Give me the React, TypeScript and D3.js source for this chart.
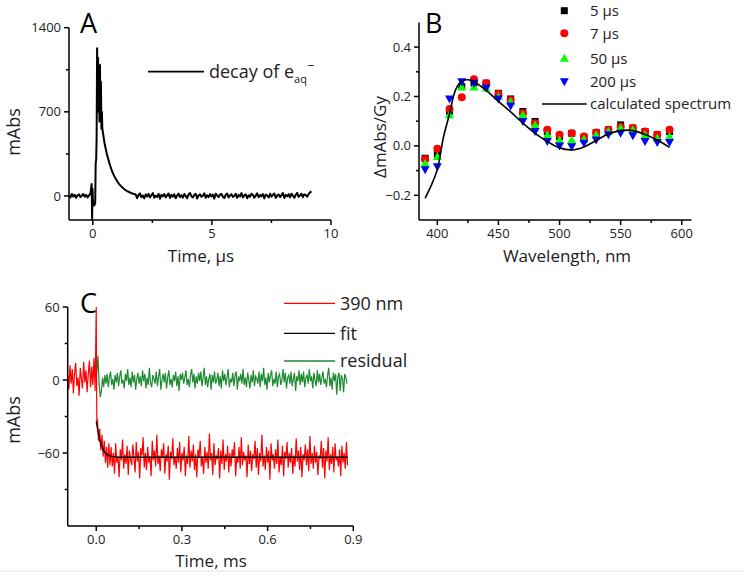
import React from 'react'
import * as d3 from 'd3'

const FONT = '"Open Sans", "Noto Sans", sans-serif'

// ---- panel A: decay of the hydrated electron (time µs, mAbs)
const aPreStart = -1.0
const aStep = 0.06
const aPre = [8, -12, 17, -5, 10, -15, 6, 13, -9, 3, 16, -6, 9, -13, 5, 20]
const aRiseT = [-0.05, -0.03, -0.01, 0.0, 0.02, 0.05, 0.08, 0.1, 0.12, 0.14, 0.16, 0.18, 0.2, 0.22, 0.24, 0.26, 0.28, 0.3, 0.32, 0.34, 0.36, 0.38, 0.4, 0.5, 0.6, 0.7, 0.8, 0.9, 1.0, 1.1, 1.2, 1.3, 1.4, 1.5, 1.6, 1.7]
const aRiseV = [100, -200, 60, -20, -75, -80, -70, -60, 270, 300, 480, 1230, 700, 1150, 800, 1080, 620, 1090, 700, 950, 560, 700, 560, 430, 340, 270, 210, 165, 130, 100, 78, 60, 45, 35, 25, 18]
const aTailStart = 1.8
const aTail = [
  12, -18, 8, 22, -10, 4, -20, 14, -5, 17,
  -12, 6, 24, -15, 2, -8, 18, -22, 9, -3,
  15, -11, 5, 21, -17, 10, -6, 13, -19, 3,
  19, -9, 7, -14, 16, 0, -18, 12, 25, -4,
  -12, 9, 18, -21, 5, 13, -7, 2, 22, -15,
  6, -10, 15, -3, 11, -22, 19, 3, -9, 12,
  16, -6, -18, 8, 21, -13, 4, 15, -9, 0,
  18, -16, 9, -4, 24, -12, 3, 13, -19, 6,
  -7, 19, 10, -15, 2, 22, -10, 7, -3, 16,
  -20, 12, 4, -13, 18, -6, 9, 21, -16, 3,
  13, -9, 6, 25, -17, 9, -4, 15, -12, 19,
  2, -15, 10, 26, -7, 5, 18, -10, 14, 7,
  -6, 16, 30, 38
]

// ---- panel B: transient spectra (nm, ΔmAbs/Gy)
const wavelengths = [390, 400, 410, 420, 430, 440, 450, 460, 470, 480, 490, 500, 510, 520, 530, 540, 550, 560, 570, 580, 590]
const s5 = [-0.05, -0.034, 0.14, 0.24, 0.255, 0.254, 0.213, 0.19, 0.139, 0.099, 0.058, 0.038, 0.051, 0.035, 0.054, 0.065, 0.085, 0.072, 0.058, 0.045, 0.058]
const s7 = [-0.054, -0.012, 0.149, 0.197, 0.27, 0.254, 0.21, 0.186, 0.132, 0.092, 0.065, 0.045, 0.051, 0.038, 0.054, 0.065, 0.078, 0.072, 0.058, 0.045, 0.065]
const s50 = [-0.07, -0.043, 0.126, 0.238, 0.238, 0.234, 0.2, 0.18, 0.126, 0.085, 0.045, 0.024, 0.024, 0.027, 0.045, 0.058, 0.072, 0.065, 0.045, 0.031, 0.038]
const s200 = [-0.097, -0.084, 0.19, 0.26, 0.254, 0.234, 0.19, 0.162, 0.099, 0.058, 0.018, 0.0, -0.003, 0.011, 0.024, 0.045, 0.051, 0.041, 0.018, 0.014, 0.014]
const calcWl = [390, 395, 400, 405, 410, 415, 420, 425, 430, 440, 450, 460, 470, 480, 490, 500, 510, 520, 530, 540, 550, 560, 570, 580, 590]
const calcVal = [-0.212, -0.16, -0.095, 0.035, 0.13, 0.228, 0.262, 0.268, 0.26, 0.225, 0.18, 0.138, 0.092, 0.051, 0.018, -0.008, -0.016, -0.004, 0.022, 0.048, 0.062, 0.062, 0.046, 0.024, -0.006]

// ---- panel C: 390 nm kinetics (ms, mAbs)
const cPreStart = -0.1
const cPreStep = 0.004
const cPre = [4, -8, 12, -3, 9, -11, 6, 14, -5, 2, -13, 10, 1, -7, 15, -2, 8, -10, 5, 16, -6, 11, -4, 18, -9]
const cJumpT = [0.0, 0.0008, 0.002]
const cJumpV = [60, 10, -35]
const cPostStart = 0.004
const cStep = 0.004
const cRed = [
  -32, -50, -40, -58, -45, -63, -50, -68, -55, -72, -52, -70,
  -55, -71, -60, -77, -52, -68, -63, -80, -57, -66,
  -49, -73, -61, -69, -54, -78, -58, -65, -70, -53,
  -64, -76, -51, -67, -59, -81, -56, -62, -47, -72,
  -60, -74, -55, -68, -63, -79, -50, -66, -58, -71,
  -45, -69, -62, -75, -57, -64, -52, -77, -61, -67,
  -54, -82, -59, -65, -48, -70, -63, -73, -56, -68,
  -51, -76, -60, -66, -55, -79, -62, -69, -46, -72,
  -58, -67, -53, -74, -61, -80, -57, -64, -50, -71,
  -63, -77, -55, -68, -59, -73, -44, -66, -60, -78,
  -52, -70, -62, -65, -56, -81, -58, -69, -49, -74,
  -61, -67, -54, -76, -60, -71, -57, -64, -51, -79,
  -63, -68, -55, -73, -47, -70, -59, -66, -62, -80,
  -53, -69, -58, -75, -61, -65, -50, -72, -56, -78,
  -60, -67, -45, -71, -62, -74, -55, -68, -58, -82,
  -52, -66, -61, -73, -57, -69, -49, -76, -63, -70,
  -54, -79, -59, -65, -51, -72, -60, -68, -56, -77,
  -62, -71, -48, -67, -58, -74, -55, -80, -61, -66,
  -53, -70, -57, -75, -46, -69, -60, -73, -54, -68,
  -59, -78, -62, -65, -50, -72, -56, -81, -58, -67,
  -47, -74, -61, -69, -55, -76, -52, -66, -63, -71,
  -57, -79, -54, -68, -60, -73, -51, -70
]
const cResStart = 0.002
const cResidual = [
  6, 20, -4, -14, -9, 2, -6, 4,
  -3, 5, -6, 2, 7, -4, 1, -8, 4, -2,
  6, -5, 3, 8, -3, 0, -7, 5, -1, 9,
  -4, 2, -6, 7, -2, 4, -8, 1, 6, -3,
  3, -5, 8, -1, 5, -7, 2, -4, 10, -2,
  -6, 4, 1, -3, 7, -5, 3, 9, -8, 0,
  5, -2, 6, -7, 2, 8, -4, 1, -6, 4,
  -1, 7, -5, 3, -9, 5, 0, 6, -3, 2,
  8, -4, 1, -6, 4, 9, -2, 5, -7, 3,
  -3, 6, -1, 7, -5, 2, 10, -4, 3, -6,
  1, 5, -8, 4, -2, 7, -3, 0, 6, -5,
  3, -7, 8, -1, 5, -4, 2, 9, -6, 1,
  -2, 6, -5, 4, 7, -8, 3, -1, 5, -3,
  9, -4, 2, -6, 6, 0, -7, 4, -2, 8,
  -5, 3, 1, -3, 7, -6, 5, -1, 10, -4,
  2, -8, 6, -2, 4, 8, -5, 1, -3, 7,
  -6, 3, 5, -4, 0, 9, -2, 6, -7, 2,
  4, -3, 7, -5, 1, 6, -9, 3, -1, 8,
  -4, 5, -2, 7, -6, 2, 4, -3, 9, -1,
  3, -7, 6, 0, -5, 8, -2, 5, -4, 2,
  7, -3, 1, -6, 4, 10, -5, 2, -8, 6,
  -1, 5, -12, 3, 6, -9, 4, 1, -10, 5,
  2, -3
]
const fitT = [0, 0.005, 0.01, 0.015, 0.02, 0.025, 0.03, 0.04, 0.05, 0.06, 0.08, 0.1, 0.3, 0.6, 0.88]
const fitV = [-34, -41, -47, -52, -55, -57.5, -59.5, -61.5, -62.5, -63, -63.5, -63.5, -63.5, -63.5, -63.5]

type Sc = d3.ScaleLinear<number, number>

function Axes({ x, y, xTicks, xMinor, yTicks, yMinor, fmtX, fmtY }: {
  x: Sc, y: Sc, xTicks: number[], xMinor: number[], yTicks: number[], yMinor: number[],
  fmtX: (v: number) => string, fmtY: (v: number) => string
}) {
  const [x0, x1] = x.range()
  const [y0, y1] = y.range()
  return (
    <g stroke="#000" strokeWidth={1.5} fontFamily={FONT} fontSize={13}>
      <line x1={x0} x2={x0} y1={y0} y2={y1} />
      <line x1={x0} x2={x1} y1={y0} y2={y0} />
      {xTicks.map(t => <line key={'xt' + t} x1={x(t)} x2={x(t)} y1={y0} y2={y0 + 5} />)}
      {xMinor.map(t => <line key={'xm' + t} x1={x(t)} x2={x(t)} y1={y0} y2={y0 + 3} />)}
      {yTicks.map(t => <line key={'yt' + t} x1={x0} x2={x0 - 5} y1={y(t)} y2={y(t)} />)}
      {yMinor.map(t => <line key={'ym' + t} x1={x0} x2={x0 - 3} y1={y(t)} y2={y(t)} />)}
      {xTicks.map(t => (
        <text key={'xl' + t} x={x(t)} y={y0 + 18} textAnchor="middle" stroke="none" fill="#222">{fmtX(t)}</text>
      ))}
      {yTicks.map(t => (
        <text key={'yl' + t} x={x0 - 8} y={y(t)} dy="0.35em" textAnchor="end" stroke="none" fill="#222">{fmtY(t)}</text>
      ))}
    </g>
  )
}

function PanelA() {
  const x = d3.scaleLinear().domain([-1, 10]).range([69, 331])
  const y = d3.scaleLinear().domain([-200, 1400]).range([220, 27.7])
  const pts: [number, number][] = [
    ...aPre.map((v, i) => [aPreStart + i * aStep, v] as [number, number]),
    ...aRiseT.map((t, i) => [t, aRiseV[i]] as [number, number]),
    ...aTail.map((v, i) => [aTailStart + i * aStep, v] as [number, number]),
  ]
  const line = d3.line<[number, number]>().x(d => x(d[0])).y(d => y(d[1]))
  return (
    <g>
      <path d={line(pts) || ''} fill="none" stroke="#000" strokeWidth={2} strokeLinejoin="round" />
      <Axes x={x} y={y} xTicks={[0, 5, 10]} xMinor={[2.5, 7.5]} yTicks={[0, 700, 1400]} yMinor={[350, 1050]}
        fmtX={d3.format('d')} fmtY={d3.format('d')} />
      <text x={80} y={33} fontFamily={FONT} fontSize={27}>A</text>
      <text transform="translate(20,132) rotate(-90)" textAnchor="middle" fontFamily={FONT} fontSize={18} fill="#222">mAbs</text>
      <text x={201} y={262} textAnchor="middle" fontFamily={FONT} fontSize={17} fill="#222">Time, μs</text>
      <line x1={148} x2={204} y1={71.7} y2={71.7} stroke="#000" strokeWidth={1.8} />
      <text x={209} y={78} fontFamily={FONT} fontSize={18} fill="#222">
        decay of e<tspan fontSize={11} dy={5}>aq</tspan><tspan fontSize={13} dy={-13}>−</tspan>
      </text>
    </g>
  )
}

function Marker({ kind, cx, cy }: { kind: string, cx: number, cy: number }) {
  if (kind === 'square') return <rect x={cx - 3.5} y={cy - 3.5} width={7} height={7} fill="#000" />
  if (kind === 'circle') return <circle cx={cx} cy={cy} r={4} fill="#ff0000" />
  if (kind === 'up') return <path d={`M${cx},${cy - 4.5}L${cx + 4.5},${cy + 3.5}L${cx - 4.5},${cy + 3.5}Z`} fill="#00ff00" />
  return <path d={`M${cx},${cy + 4.5}L${cx + 4.5},${cy - 3.5}L${cx - 4.5},${cy - 3.5}Z`} fill="#0000ff" />
}

function PanelB() {
  const x = d3.scaleLinear().domain([385, 608]).range([419, 691.5])
  const y = d3.scaleLinear().domain([-0.3, 0.5]).range([220, 22.4])
  const series = [
    { name: '5 μs', kind: 'square', vals: s5 },
    { name: '7 μs', kind: 'circle', vals: s7 },
    { name: '50 μs', kind: 'up', vals: s50 },
    { name: '200 μs', kind: 'down', vals: s200 },
  ]
  const line = d3.line<number>().x((_, i) => x(calcWl[i])).y(d => y(d)).curve(d3.curveCatmullRom)
  const legY = [10.7, 33.3, 58.3, 81.7]
  return (
    <g>
      {series.map(s => (
        <g key={s.name}>
          {s.vals.map((v, i) => <Marker key={i} kind={s.kind} cx={x(wavelengths[i])} cy={y(v)} />)}
        </g>
      ))}
      <path d={line(calcVal) || ''} fill="none" stroke="#000" strokeWidth={1.6} />
      <Axes x={x} y={y} xTicks={[400, 450, 500, 550, 600]} xMinor={[425, 475, 525, 575]}
        yTicks={[-0.2, 0, 0.2, 0.4]} yMinor={[-0.1, 0.1, 0.3]}
        fmtX={d3.format('d')} fmtY={d3.format('.1f')} />
      <text x={425} y={33} fontFamily={FONT} fontSize={27}>B</text>
      <text transform="translate(386,137) rotate(-90)" textAnchor="middle" fontFamily={FONT} fontSize={17} fill="#222">ΔmAbs/Gy</text>
      <text x={567} y={262} textAnchor="middle" fontFamily={FONT} fontSize={17} fill="#222">Wavelength, nm</text>
      {series.map((s, i) => (
        <g key={'leg' + s.name}>
          <Marker kind={s.kind} cx={564.3} cy={legY[i]} />
          <text x={590} y={legY[i]} dy="0.35em" fontFamily={FONT} fontSize={15} fill="#222">{s.name}</text>
        </g>
      ))}
      <line x1={542} x2={586.7} y1={104} y2={104} stroke="#000" strokeWidth={1.6} />
      <text x={590} y={104} dy="0.35em" fontFamily={FONT} fontSize={15} fill="#222">calculated spectrum</text>
    </g>
  )
}

function PanelC() {
  const x = d3.scaleLinear().domain([-0.1, 0.9]).range([67.7, 353.3])
  const y = d3.scaleLinear().domain([-120, 60]).range([526, 307])
  const red: [number, number][] = [
    ...cPre.map((v, i) => [cPreStart + i * cPreStep, v] as [number, number]),
    ...cJumpT.map((t, i) => [t, cJumpV[i]] as [number, number]),
    ...cRed.map((v, i) => [cPostStart + i * cStep, v] as [number, number]),
  ]
  const green: [number, number][] = cResidual.map((v, i) => [cResStart + i * cStep, v])
  const fit: [number, number][] = fitT.map((t, i) => [t, fitV[i]])
  const line = d3.line<[number, number]>().x(d => x(d[0])).y(d => y(d[1]))
  const fitLine = d3.line<[number, number]>().x(d => x(d[0])).y(d => y(d[1])).curve(d3.curveMonotoneX)
  const legend = [
    { label: '390 nm', color: '#ff0000', y: 303.3 },
    { label: 'fit', color: '#000000', y: 333.3 },
    { label: 'residual', color: '#1e8a32', y: 361 },
  ]
  return (
    <g>
      <path d={line(green) || ''} fill="none" stroke="#1e8a32" strokeWidth={1.2} />
      <path d={line(red) || ''} fill="none" stroke="#ff0000" strokeWidth={1.2} />
      <path d={fitLine(fit) || ''} fill="none" stroke="#000" strokeWidth={1.3} />
      <Axes x={x} y={y} xTicks={[0, 0.3, 0.6, 0.9]} xMinor={[0.15, 0.45, 0.75]}
        yTicks={[-60, 0, 60]} yMinor={[-90, -30, 30]}
        fmtX={d3.format('.1f')} fmtY={d3.format('d')} />
      <text x={80} y={313} fontFamily={FONT} fontSize={27}>C</text>
      <text transform="translate(20,420) rotate(-90)" textAnchor="middle" fontFamily={FONT} fontSize={18} fill="#222">mAbs</text>
      <text x={211} y={567} textAnchor="middle" fontFamily={FONT} fontSize={17} fill="#222">Time, ms</text>
      {legend.map(l => (
        <g key={l.label}>
          <line x1={284} x2={335} y1={l.y} y2={l.y} stroke={l.color} strokeWidth={1.3} />
          <text x={340} y={l.y} dy="0.35em" fontFamily={FONT} fontSize={18} fill="#222">{l.label}</text>
        </g>
      ))}
    </g>
  )
}

export default function App() {
  return (
    <div style={{ position: 'absolute', left: 0, top: 0 }}>
      <svg width={745} height={577} style={{ display: 'block', background: '#fff' }}>
        <PanelA />
        <PanelB />
        <PanelC />
        <line x1={0} x2={745} y1={571} y2={571} stroke="#e2e2e2" strokeWidth={1} />
      </svg>
    </div>
  )
}
